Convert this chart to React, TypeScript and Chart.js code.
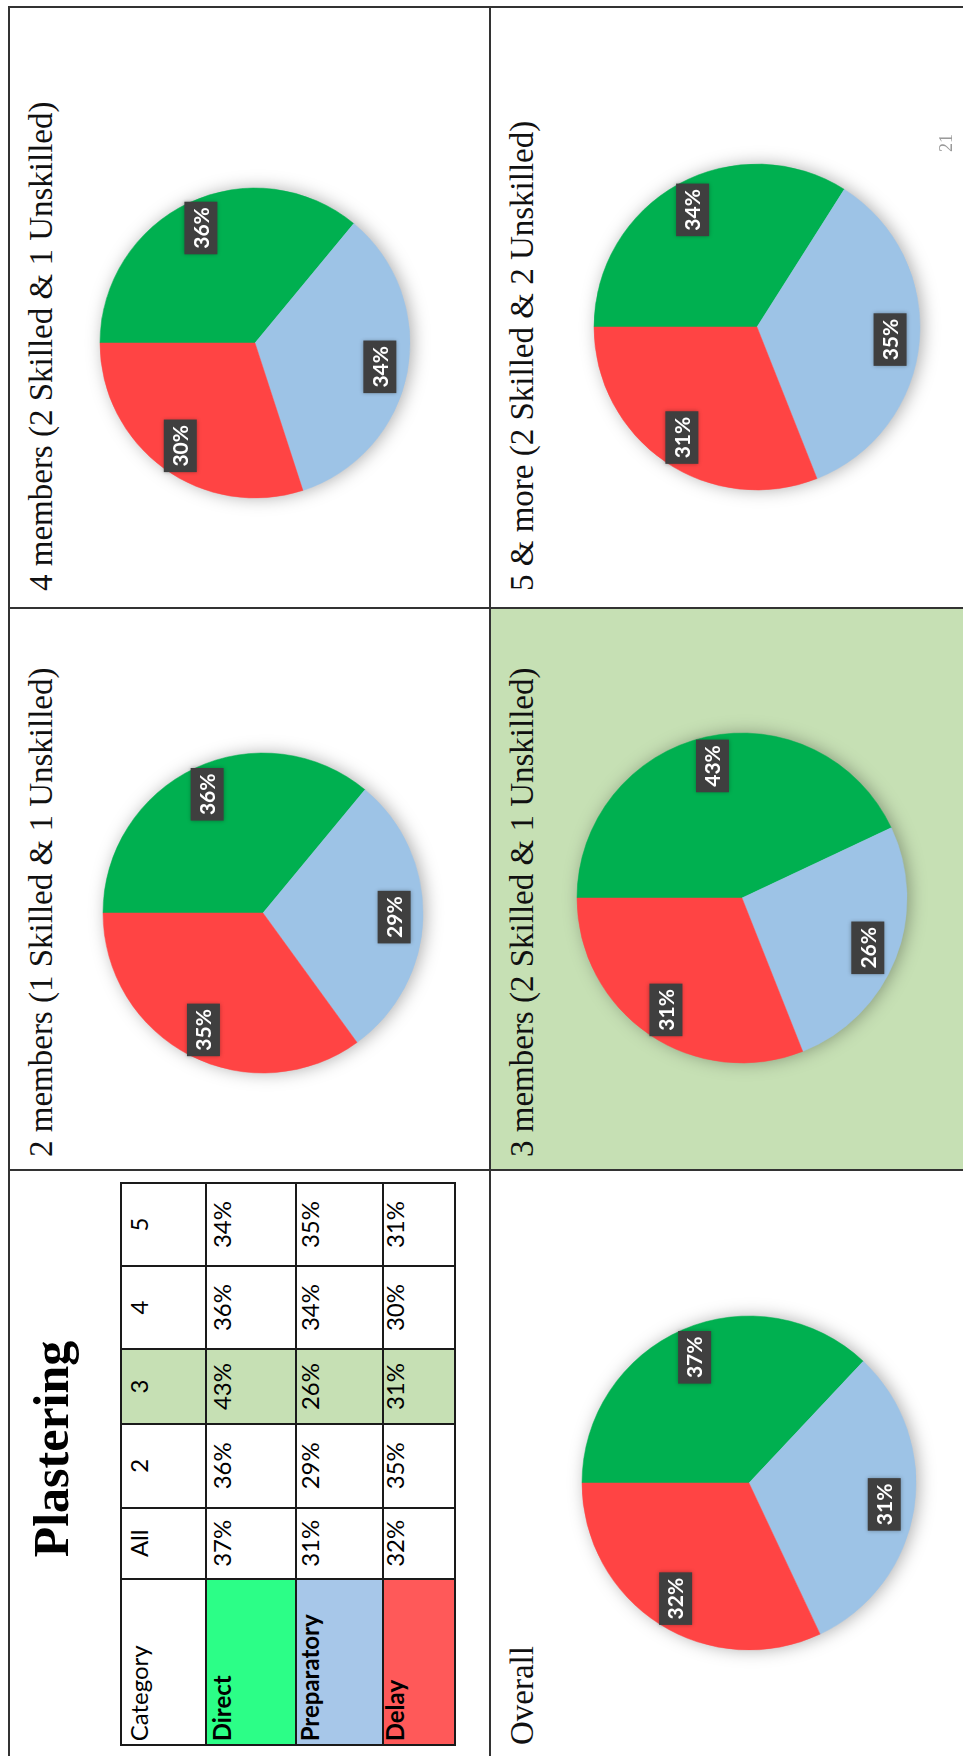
import React, { useEffect, useRef } from 'react';
import { Chart, registerables } from 'chart.js';

Chart.register(...registerables);

// ---------- data ----------
const categories = ['Direct', 'Preparatory', 'Delay'];
const groupLabels = ['All', '2', '3', '4', '5'];
const directShare = [37, 36, 43, 36, 34];
const preparatoryShare = [31, 29, 26, 34, 35];
const delayShare = [32, 35, 31, 30, 31];
const panelTitles = [
  'Overall',
  '2 members (1 Skilled & 1 Unskilled)',
  '3 members (2 Skilled & 1 Unskilled)',
  '4 members (2 Skilled & 1 Unskilled)',
  '5 & more (2 Skilled & 2 Unskilled)',
];
const pageTitle = 'Plastering';
const headerLabel = 'Category';
const pageNumber = '21';
const highlightGroup = '3';

// ---------- styles ----------
const sliceColors = ['#00b050', '#9dc3e6', '#ff4444'];
const tableColors = ['#2cfe87', '#a7c7e9', '#ff5959'];
const highlightBg = '#c6e0b4';
const serif = '"Liberation Serif", "Times New Roman", serif';
const sans = 'Lato, "Open Sans", sans-serif';

// layout in landscape coordinates (page is rotated -90deg)
const PAGE_W = 1756;
const PAGE_H = 963;
const panels = [
  { tx: 11, ty: 506, cx: 273, cy: 749, r: 167 },
  { tx: 599, ty: 25, cx: 843, cy: 263, r: 160 },
  { tx: 599, ty: 506, cx: 858, cy: 742, r: 165 },
  { tx: 1165, ty: 25, cx: 1413, cy: 255, r: 155 },
  { tx: 1165, ty: 506, cx: 1429, cy: 757, r: 163 },
];
const tableCols = [10.7, 177, 248.4, 332, 407, 490, 573];
const tableRows = [120.7, 206, 296, 383.3, 455];
const rowCapOffset = [10, 8, 6, 4];

const shadowPlugin = {
  id: 'pieShadow',
  beforeDatasetsDraw(chart: any) {
    const arc = chart.getDatasetMeta(0).data[0];
    if (!arc) return;
    const p = arc.getProps(['x', 'y', 'outerRadius'], true);
    const ctx = chart.ctx;
    ctx.save();
    ctx.shadowColor = 'rgba(0,0,0,0.35)';
    ctx.shadowBlur = 18;
    ctx.shadowOffsetX = 0;
    ctx.shadowOffsetY = 3;
    ctx.beginPath();
    ctx.arc(p.x, p.y, p.outerRadius - 1, 0, Math.PI * 2);
    ctx.fillStyle = '#ffffff';
    ctx.fill();
    ctx.restore();
  },
};

const labelPlugin = {
  id: 'boxLabels',
  afterDatasetsDraw(chart: any) {
    const meta = chart.getDatasetMeta(0);
    const ds = chart.data.datasets[0];
    const ctx = chart.ctx;
    meta.data.forEach((el: any, i: number) => {
      const p = el.getProps(['x', 'y', 'startAngle', 'endAngle', 'outerRadius'], true);
      const mid = (p.startAngle + p.endAngle) / 2;
      const lx = p.x + Math.cos(mid) * p.outerRadius * 0.82;
      const ly = p.y + Math.sin(mid) * p.outerRadius * 0.82;
      const txt = ds.data[i] + '%';
      ctx.save();
      ctx.font = 'bold 21px Lato, "Open Sans", sans-serif';
      const w = ctx.measureText(txt).width + 11;
      const h = 33;
      ctx.shadowColor = 'rgba(0,0,0,0.3)';
      ctx.shadowBlur = 4;
      ctx.fillStyle = '#3f3f3f';
      ctx.fillRect(lx - w / 2, ly - h / 2, w, h);
      ctx.shadowColor = 'transparent';
      ctx.fillStyle = '#ffffff';
      ctx.textAlign = 'center';
      ctx.textBaseline = 'middle';
      ctx.fillText(txt, lx, ly + 1);
      ctx.restore();
    });
  },
};

function PiePanel({ idx }: { idx: number }) {
  const ref = useRef<HTMLCanvasElement>(null);
  const panel = panels[idx];
  const S = panel.r * 2 + 60;
  useEffect(() => {
    const values = [directShare[idx], preparatoryShare[idx], delayShare[idx]];
    const chart = new Chart(ref.current as HTMLCanvasElement, {
      type: 'pie',
      data: {
        labels: categories,
        datasets: [
          {
            data: values,
            backgroundColor: sliceColors,
            borderColor: sliceColors,
            borderWidth: 0.5,
            radius: panel.r,
            hoverOffset: 0,
          } as any,
        ],
      },
      options: {
        responsive: false,
        animation: false,
        devicePixelRatio: 1,
        events: [],
        layout: { padding: 0 },
        plugins: { legend: { display: false }, tooltip: { enabled: false }, title: { display: false } },
      },
      plugins: [shadowPlugin, labelPlugin],
    });
    return () => chart.destroy();
  }, []);
  return (
    <>
      <canvas
        ref={ref}
        width={S}
        height={S}
        style={{ position: 'absolute', left: panel.cx - S / 2, top: panel.cy - S / 2, width: S, height: S }}
      />
      <div
        style={{
          position: 'absolute',
          left: panel.tx,
          top: panel.ty,
          font: `33px ${serif}`,
          lineHeight: 1,
          whiteSpace: 'nowrap',
          color: '#111',
        }}
      >
        {panelTitles[idx]}
      </div>
    </>
  );
}

function Line({ x, y, w, h, c = '#333' }: { x: number; y: number; w: number; h: number; c?: string }) {
  return <div style={{ position: 'absolute', left: x, top: y, width: w, height: h, background: c }} />;
}

function DataTable() {
  const rows: string[][] = [
    [headerLabel, ...groupLabels],
    [categories[0], ...directShare.map((v) => v + '%')],
    [categories[1], ...preparatoryShare.map((v) => v + '%')],
    [categories[2], ...delayShare.map((v) => v + '%')],
  ];
  const cells: React.ReactNode[] = [];
  rows.forEach((row, ri) => {
    row.forEach((txt, ci) => {
      const x0 = tableCols[ci];
      const x1 = tableCols[ci + 1];
      const y0 = tableRows[ri];
      const y1 = tableRows[ri + 1];
      let bg = 'transparent';
      if (ci === 0 && ri > 0) bg = tableColors[ri - 1];
      if (ci > 0 && groupLabels[ci - 1] === highlightGroup) bg = highlightBg;
      cells.push(
        <div key={`bg${ri}-${ci}`} style={{ position: 'absolute', left: x0, top: y0, width: x1 - x0, height: y1 - y0, background: bg }} />
      );
      cells.push(
        <div
          key={`t${ri}-${ci}`}
          style={{
            position: 'absolute',
            left: ci === 0 ? x0 + 4 : x0,
            width: ci === 0 ? x1 - x0 - 4 : x1 - x0,
            top: y0 + rowCapOffset[ri] - 4,
            font: `${ci === 0 && ri > 0 ? 'bold ' : ''}24px ${sans}`,
            lineHeight: 1,
            textAlign: ci === 0 ? 'left' : 'center',
            color: '#000',
            whiteSpace: 'nowrap',
          }}
        >
          {txt}
        </div>
      );
    });
  });
  const lines: React.ReactNode[] = [];
  tableCols.forEach((x, i) => {
    lines.push(<Line key={`vc${i}`} x={x - 1} y={tableRows[0] - 1} w={2} h={tableRows[tableRows.length - 1] - tableRows[0] + 2} c="#1a1a1a" />);
  });
  tableRows.forEach((y, i) => {
    lines.push(<Line key={`hr${i}`} x={tableCols[0] - 1} y={y - 1} w={tableCols[tableCols.length - 1] - tableCols[0] + 2} h={2} c="#1a1a1a" />);
  });
  return (
    <>
      {cells}
      {lines}
    </>
  );
}

export default function App() {
  return (
    <div style={{ position: 'fixed', left: 0, top: 0, width: 963, height: 1756, overflow: 'hidden', background: '#fff' }}>
      <div
        style={{
          position: 'absolute',
          left: 0,
          top: 0,
          width: PAGE_W,
          height: PAGE_H,
          transformOrigin: '0 0',
          transform: `translate(0px, ${PAGE_W}px) rotate(-90deg)`,
          background: '#fff',
        }}
      >
        {/* highlighted cell */}
        <div style={{ position: 'absolute', left: 586, top: 490, width: 1148 - 586, height: PAGE_H - 490 + 20, background: highlightBg }} />
        {/* grid lines */}
        <Line x={-10} y={8} w={1760} h={2} />
        <Line x={-10} y={489} w={1760} h={2} />
        <Line x={585} y={8} w={2} h={1000} />
        <Line x={1147} y={8} w={2} h={1000} />
        <Line x={1748} y={8} w={2} h={1000} />
        {/* title and table */}
        <div
          style={{
            position: 'absolute',
            left: 107,
            width: 400,
            top: 26,
            textAlign: 'center',
            font: `bold 50px ${serif}`,
            lineHeight: 1,
            color: '#000',
          }}
        >
          {pageTitle}
        </div>
        <DataTable />
        {panels.map((_, i) => (
          <PiePanel key={i} idx={i} />
        ))}
        <div style={{ position: 'absolute', left: 1604, top: 937, font: `18px ${serif}`, lineHeight: 1, color: '#9a9a9a' }}>
          {pageNumber}
        </div>
      </div>
    </div>
  );
}
